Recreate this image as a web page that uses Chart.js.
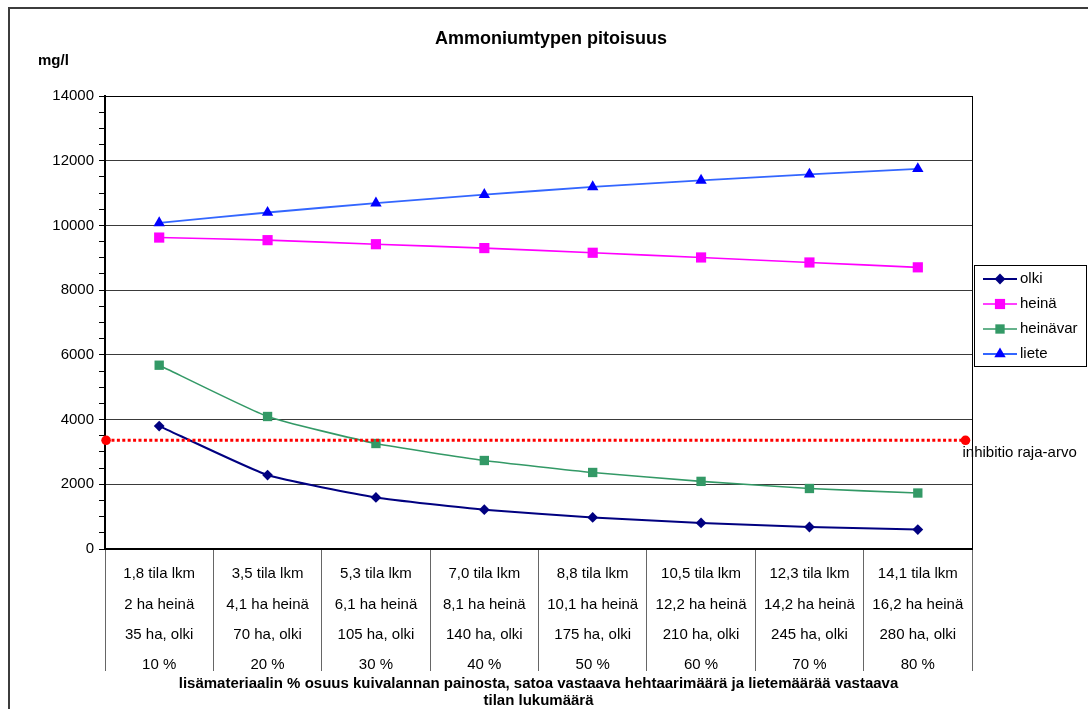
<!DOCTYPE html>
<html lang="fi">
<head>
<meta charset="utf-8">
<title>Ammoniumtypen pitoisuus</title>
<script src="https://cdn.jsdelivr.net/npm/chart.js@4/dist/chart.umd.min.js"></script>
<style>
  html, body { margin: 0; padding: 0; background: #fff; }
  #wrap { width: 1088px; height: 709px; position: relative; }
</style>
</head>
<body>
<div id="wrap"><canvas id="c" width="1088" height="709"></canvas></div>
<script>
// Category label parts (one entry per column under the x axis)
const farmCounts = ['1,8', '3,5', '5,3', '7,0', '8,8', '10,5', '12,3', '14,1'];
const hayHectares = ['2', '4,1', '6,1', '8,1', '10,1', '12,2', '14,2', '16,2'];
const strawHectares = ['35', '70', '105', '140', '175', '210', '245', '280'];
const materialShares = ['10 %', '20 %', '30 %', '40 %', '50 %', '60 %', '70 %', '80 %'];

// Ammonium nitrogen concentration, mg/l
const olki = [3800, 2285, 1595, 1215, 975, 805, 680, 600];
const heina = [9625, 9545, 9420, 9300, 9155, 9010, 8855, 8705];
const heinavar = [5680, 4095, 3260, 2735, 2365, 2090, 1870, 1730];
const liete = [10080, 10400, 10690, 10950, 11190, 11390, 11580, 11750];

// Inhibition limit, drawn across the plot on its own 0..8 axis
const inhibitionLimit = 3360;
const inhibitionSpan = [0.01, 7.94];

// Value axis
const yMin = 0, yMax = 14000, yMajorStep = 2000, yMinorStep = 500;

const FONT = "'Liberation Sans', Arial, sans-serif";

const categories = farmCounts.map((f, i) => [
  f + ' tila lkm',
  hayHectares[i] + ' ha heinä',
  strawHectares[i] + ' ha, olki',
  materialShares[i]
]);

const seriesDefs = [
  { label: 'olki', data: olki, line: '#000080', fill: '#000080', style: 'rectRot', radius: 5.4, width: 2 },
  { label: 'heinä', data: heina, line: '#FF00FF', fill: '#FF00FF', style: 'rect', radius: 7.2, width: 1.6 },
  { label: 'heinävar', data: heinavar, line: '#339966', fill: '#339966', style: 'rect', radius: 6.6, width: 1.6 },
  { label: 'liete', data: liete, line: '#3366FF', fill: '#0000FF', style: 'triangle', radius: 6.6, width: 1.8 }
];

const datasets = seriesDefs.map(s => ({
  label: s.label,
  data: s.data,
  xAxisID: 'x',
  yAxisID: 'y',
  borderColor: s.line,
  backgroundColor: s.fill,
  borderWidth: s.width,
  pointStyle: s.style,
  pointRadius: s.radius,
  pointBackgroundColor: s.fill,
  pointBorderColor: s.fill,
  pointBorderWidth: 0,
  tension: 0.15,
  clip: false,
  order: 1
}));

datasets.push({
  label: 'inhibitio raja-arvo',
  data: inhibitionSpan.map(x => ({ x: x, y: inhibitionLimit })),
  xAxisID: 'x2',
  yAxisID: 'y',
  borderColor: '#FF0000',
  backgroundColor: '#FF0000',
  borderWidth: 3,
  borderDash: [3, 2.4],
  pointStyle: 'circle',
  pointRadius: 4.8,
  pointBackgroundColor: '#FF0000',
  pointBorderColor: '#FF0000',
  pointBorderWidth: 0,
  clip: false,
  order: 0
});

// Extra drawing: frame, titles, legend box and limit label
const decorations = {
  id: 'decorations',
  beforeDraw(chart) {
    const ctx = chart.ctx;
    ctx.save();
    ctx.fillStyle = '#FFFFFF';
    ctx.fillRect(0, 0, chart.width, chart.height);
    ctx.restore();
  },
  beforeDatasetsDraw(chart) {
    const ctx = chart.ctx;
    const area = chart.chartArea;
    ctx.save();
    // plot area outline
    ctx.strokeStyle = '#000';
    ctx.lineWidth = 1;
    ctx.strokeRect(Math.round(area.left) + 0.5, Math.round(area.top) + 0.5,
      Math.round(area.right - area.left), Math.round(area.bottom - area.top));
    ctx.restore();
  },
  afterDraw(chart) {
    const ctx = chart.ctx;
    const area = chart.chartArea;
    ctx.save();

    // outer chart frame
    ctx.strokeStyle = '#3c3c3c';
    ctx.lineWidth = 2;
    ctx.strokeRect(9, 8, chart.width + 40, chart.height + 40);

    ctx.fillStyle = '#000';
    ctx.textBaseline = 'middle';

    // title
    ctx.font = 'bold 18px ' + FONT;
    ctx.textAlign = 'center';
    ctx.fillText('Ammoniumtypen pitoisuus', 551, 39);

    // unit
    ctx.font = 'bold 15px ' + FONT;
    ctx.textAlign = 'left';
    ctx.fillText('mg/l', 38, 61);

    // x axis title
    const cx = (area.left + area.right) / 2;
    ctx.font = 'bold 15px ' + FONT;
    ctx.textAlign = 'center';
    ctx.fillText('lisämateriaalin % osuus kuivalannan painosta, satoa vastaava hehtaarimäärä ja lietemäärää vastaava', cx, 684);
    ctx.fillText('tilan lukumäärä', cx, 701);

    // limit label next to the right end point of the limit line
    const limMeta = chart.getDatasetMeta(chart.data.datasets.length - 1);
    const endPt = limMeta.data[limMeta.data.length - 1];
    ctx.font = '15px ' + FONT;
    ctx.textAlign = 'left';
    ctx.fillText('inhibitio raja-arvo', endPt.x - 3, endPt.y + 13);

    // legend
    const lx = 974.5, ly = 265.5, lw = 112, lh = 101;
    ctx.fillStyle = '#FFF';
    ctx.fillRect(lx, ly, lw, lh);
    ctx.strokeStyle = '#000';
    ctx.lineWidth = 1;
    ctx.strokeRect(lx, ly, lw, lh);
    const rows = [279, 304, 329, 354];
    seriesDefs.forEach((s, i) => {
      const y = rows[i];
      ctx.strokeStyle = s.line;
      ctx.lineWidth = s.width;
      ctx.beginPath();
      ctx.moveTo(983, y);
      ctx.lineTo(1017, y);
      ctx.stroke();
      ctx.fillStyle = s.fill;
      ctx.strokeStyle = s.fill;
      Chart.helpers.drawPoint(ctx, { pointStyle: s.style, radius: s.radius, rotation: 0, borderWidth: 0 }, 1000, y);
      ctx.fillStyle = '#000';
      ctx.font = '15px ' + FONT;
      ctx.textAlign = 'left';
      ctx.textBaseline = 'middle';
      ctx.fillText(s.label, 1020, y);
    });

    ctx.restore();
  }
};

new Chart(document.getElementById('c'), {
  type: 'line',
  data: { labels: categories, datasets: datasets },
  options: {
    responsive: false,
    animation: false,
    events: [],
    layout: { padding: { top: 96, right: 116, left: 0, bottom: 0 } },
    plugins: {
      legend: { display: false },
      title: { display: false },
      tooltip: { enabled: false }
    },
    scales: {
      x: {
        type: 'category',
        position: 'bottom',
        offset: true,
        grid: {
          offset: true,
          drawOnChartArea: false,
          drawTicks: true,
          tickLength: 122,
          color: '#666',
          lineWidth: 1
        },
        border: { display: true, color: '#000', width: 2 },
        ticks: {
          color: '#000',
          font: { family: FONT, size: 15, lineHeight: 2.02 },
          padding: -112,
          maxRotation: 0,
          autoSkip: false
        },
        afterFit(scale) { scale.height = 160; }
      },
      x2: {
        type: 'linear',
        display: false,
        min: 0,
        max: 8
      },
      y: {
        type: 'linear',
        position: 'left',
        min: yMin,
        max: yMax,
        grid: {
          color: ctx => (ctx.tick && ctx.tick.value % yMajorStep === 0) ? '#3a3a3a' : 'rgba(0,0,0,0)',
          tickColor: '#000',
          tickLength: 6,
          lineWidth: 1
        },
        border: { display: true, color: '#000', width: 2 },
        ticks: {
          stepSize: yMinorStep,
          autoSkip: false,
          color: '#000',
          padding: 5,
          font: { family: FONT, size: 15 },
          callback: v => (v % yMajorStep === 0) ? String(v) : ''
        },
        afterFit(scale) { scale.width = 105; }
      }
    }
  },
  plugins: [decorations]
});
</script>
</body>
</html>
